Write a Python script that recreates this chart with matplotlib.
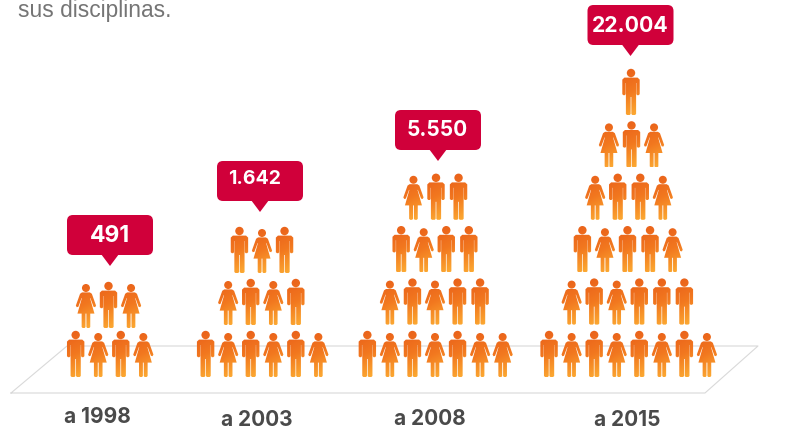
import numpy as np
import matplotlib
matplotlib.use("Agg")
import matplotlib.pyplot as plt
from matplotlib.colors import LinearSegmentedColormap
from matplotlib.patches import FancyBboxPatch, Polygon
from matplotlib.path import Path
from matplotlib.transforms import Affine2D

# data
years = ["a 1998", "a 2003", "a 2008", "a 2015"]
totals = ["491", "1.642", "5.550", "22.004"]
# people per row, bottom row first (M = man, F = woman)
rows_1998 = ["MFMF", "FMF"]
rows_2003 = ["MFMFMF", "FMFM", "MFM"]
rows_2008 = ["MFMFMFF", "FMFMM", "MFMM", "FMM"]
rows_2015 = ["MFMFMFMF", "FMFMMM", "MFMMF", "FMMF", "FMF", "M"]
all_rows = [rows_1998, rows_2003, rows_2008, rows_2015]

# layout, in pixels of the reference
row_centers = [[109.5, 108.5],
               [262, 262, 262],
               [435, 435, 435, 436],
               [628, 628, 627.5, 629, 631.5, 631]]
row_steps = [49, 52, 52.4, 52.4]
bubble_x = [110, 260, 438, 630.5]
bubble_top = [215, 161, 110, 5]
total_x = [110, 255, 437, 630]
total_dy = [21, 18, 20, 21]
total_size = [16.5, 14, 15, 15.3]
label_x = [97, 257, 430, 627]
label_y = [417, 420, 419, 420]
base_y = 377
spacing = 22.55

orange = LinearSegmentedColormap.from_list("o", ["#e85e1a", "#f2781f", "#fdb035"])
red = "#d0003a"


def man_path():
    head = Path.circle((0, -42), 4.2)
    body = Path([(-6.6, -37.4), (6.6, -37.4), (8.7, -35.4), (8.7, -20.8), (7.6, -19.8),
                 (6.2, -19.8), (5.4, -20.8), (5.4, -32), (5.1, -32), (5.1, -1), (4, 0),
                 (1.3, 0), (0.35, -1), (0.35, -18), (-0.35, -18), (-0.35, -1), (-1.3, 0),
                 (-4, 0), (-5.1, -1), (-5.1, -32), (-5.4, -32), (-5.4, -20.8), (-6.2, -19.8),
                 (-7.6, -19.8), (-8.7, -20.8), (-8.7, -35.4), (-6.6, -37.4)], closed=True)
    return Path.make_compound_path(head, body)


def woman_path():
    head = Path.circle((0, -40), 4)
    body = Path([(-3.9, -35.6), (3.9, -35.6), (5.9, -34.2), (10.1, -22.4), (9.2, -20.8),
                 (7.6, -21.2), (4.4, -30), (4.1, -29.8), (8.5, -14.4), (4.3, -14.4), (4.3, -1),
                 (3.3, 0), (1.3, 0), (0.45, -1), (0.45, -14.4), (-0.45, -14.4), (-0.45, -1),
                 (-1.3, 0), (-3.3, 0), (-4.3, -1), (-4.3, -14.4), (-8.5, -14.4), (-4.1, -29.8),
                 (-4.4, -30), (-7.6, -21.2), (-9.2, -20.8), (-10.1, -22.4), (-5.9, -34.2),
                 (-3.9, -35.6)], closed=True)
    return Path.make_compound_path(head, body)


SHAPES = {"M": man_path(), "F": woman_path()}
# diagonal gradient, dark at the top left
gy, gx = np.mgrid[0:1:40j, 0:1:20j]
gradient = 0.2 * gx + 0.8 * gy


def draw_person(ax, kind, x, y):
    path = SHAPES[kind].transformed(Affine2D().translate(x, y))
    im = ax.imshow(gradient, cmap=orange, vmin=0, vmax=1, extent=(x - 11, x + 11, y, y - 47),
                   interpolation="bilinear", zorder=3, aspect="auto")
    im.set_clip_path(path, transform=ax.transData)


def draw_bubble(ax, cx, top):
    w, h = 86, 40
    box = FancyBboxPatch((cx - w / 2 + 6, top + 6), w - 12, h - 12,
                         boxstyle="round,pad=6,rounding_size=6", fc=red, ec="none", zorder=4)
    ax.add_patch(box)
    ax.add_patch(Polygon([(cx - 9, top + h - 1), (cx + 9, top + h - 1), (cx, top + h + 11)],
                         closed=True, fc=red, ec="none", zorder=4))


plt.rcParams["font.family"] = ["Inter", "DejaVu Sans"]

fig = plt.figure(figsize=(7.85, 4.33), dpi=100)
ax = fig.add_axes([0, 0, 1, 1])

# floor
ax.plot([11, 67, 758, 705, 11], [393, 346, 346, 393, 393], color="#d9d9d9", lw=0.8, zorder=1)

ax.text(18, 17.5, "sus disciplinas.", color="#757575", fontsize=16.4, ha="left", va="baseline",
        family="Liberation Sans")

for i, rows in enumerate(all_rows):
    for r, row in enumerate(rows):
        y = base_y - r * row_steps[i]
        start = row_centers[i][r] - (len(row) - 1) / 2 * spacing
        for j, kind in enumerate(row):
            draw_person(ax, kind, start + j * spacing, y)
    draw_bubble(ax, bubble_x[i], bubble_top[i])
    ax.text(total_x[i], bubble_top[i] + total_dy[i], totals[i], color="white",
            fontsize=total_size[i], fontweight="bold", ha="center", va="center", zorder=5)
    ax.text(label_x[i], label_y[i], years[i], color="#4a4a4a", fontsize=15, fontweight="bold",
            ha="center", va="center")

ax.set_xlim(0, 785)
ax.set_ylim(433, 0)
ax.axis("off")

fig.savefig("out.png", dpi=100)
plt.close(fig)
